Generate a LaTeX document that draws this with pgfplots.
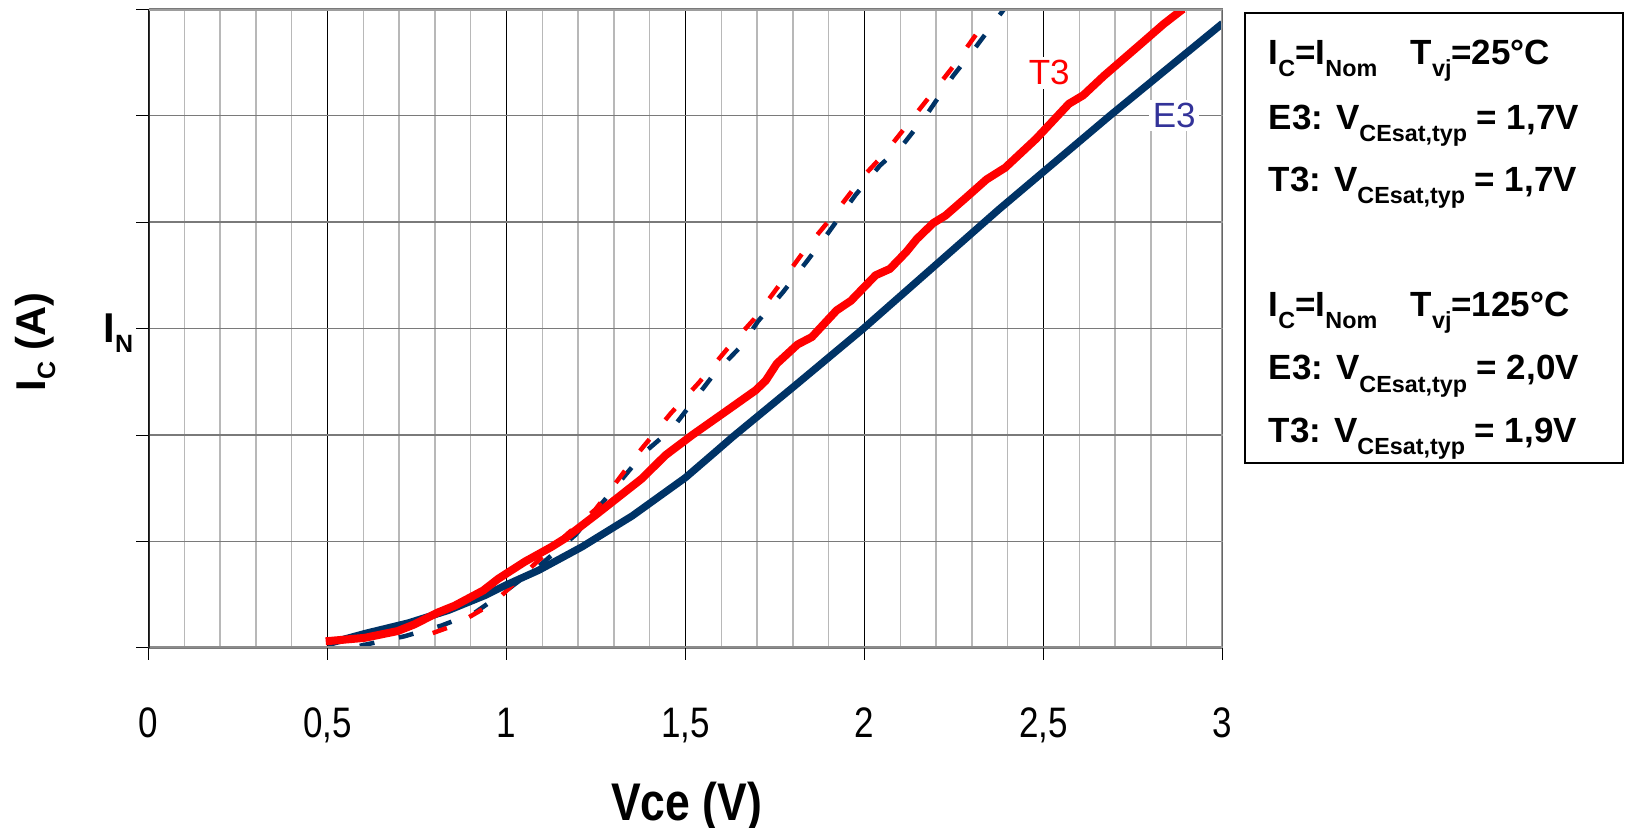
\documentclass[border=0pt]{standalone}
\usepackage{fontspec}
\setmainfont{Liberation Sans}
\usepackage{graphicx}
\usepackage{pgfplots}
\pgfplotsset{compat=1.18}
\definecolor{navy}{HTML}{003366}
\definecolor{elabel}{HTML}{333399}
\definecolor{minorgray}{HTML}{B8B8B8}
\definecolor{hgray}{HTML}{7A7A7A}
\definecolor{framegray}{HTML}{8C8C8C}
\newcommand\lsub[1]{\raisebox{-3.6pt}{\fontsize{7}{8}\selectfont #1}}
\newcommand\ysub[1]{\raisebox{-3pt}{\fontsize{7.5}{8}\selectfont #1}}
\newcommand\tl[1]{\scalebox{0.82}[1]{#1}}
\newcommand\lf{\fontsize{10.5}{12}\bfseries\selectfont}
\begin{document}
\begin{tikzpicture}
\useasboundingbox (0pt,0pt) rectangle (487.5pt,-248.4pt);
\begin{axis}[
  at={(44.55pt,-194.4pt)}, anchor=south west,
  scale only axis, width=322.2pt, height=191.7pt,
  xmin=0, xmax=3, ymin=0, ymax=6,
  xtick={0,0.5,1,1.5,2,2.5,3},
  xticklabels={{\tl{0}},{\tl{0,5}},{\tl{1}},{\tl{1,5}},{\tl{2}},{\tl{2,5}},{\tl{3}}},
  ytick={0,1,2,3,4,5,6}, yticklabels={},
  minor x tick num=4, minor tick length=0pt,
  tick pos=left, tick align=outside, major tick length=3.6pt,
  tick style={black, line width=0.3pt},
  xmajorgrids, xminorgrids, ymajorgrids,
  major x grid style={black, line width=0.3pt},
  minor x grid style={minorgray, line width=0.4pt},
  major y grid style={hgray, line width=0.45pt},
  axis line style={draw=none},
  xticklabel style={font=\fontsize{12.8}{14}\selectfont, anchor=base, yshift=-23.1pt, inner sep=0pt},
]
\addplot[navy, line width=1.35pt, dash pattern=on 4.5pt off 7.5pt] coordinates {
(0.59,0.02) (0.715,0.11) (0.818,0.21) (0.911,0.33) (1.0,0.54) (1.098,0.79) (1.192,1.06) (1.299,1.49) (1.383,1.83) (1.463,2.06) (1.577,2.56) (1.657,2.84) (1.703,3.07) (1.772,3.34) (1.841,3.64) (1.899,3.90) (1.974,4.25) (2.043,4.53) (2.106,4.72) (2.176,5.02) (2.247,5.37) (2.308,5.63) (2.39,6.0)
};
\addplot[red, line width=1.35pt, dash pattern=on 4.5pt off 7.5pt] coordinates {
(0.794,0.14) (0.86,0.22) (0.967,0.43) (1.05,0.70) (1.173,1.08) (1.248,1.30) (1.285,1.46) (1.37,1.84) (1.458,2.2) (1.537,2.49) (1.617,2.81) (1.692,3.09) (1.767,3.43) (1.836,3.75) (1.905,4.03) (1.997,4.43) (2.058,4.65) (2.14,5.0) (2.18,5.17) (2.25,5.47) (2.32,5.80) (2.335,5.87)
};
\addplot[navy, line width=2.2pt, line join=round] coordinates {
(0.50,0.04) (0.605,0.136) (0.726,0.235) (0.838,0.354) (0.941,0.495) (0.997,0.589) (1.09,0.73) (1.211,0.95) (1.351,1.24) (1.5,1.60) (1.583,1.84) (1.631,1.98) (1.808,2.47) (1.997,3.0) (2.376,4.12) (2.686,5.0) (2.991,5.84) (3.0,5.865)
};
\addplot[red, line width=2.4pt, line join=round] coordinates {
(0.495,0.063) (0.603,0.095) (0.696,0.159) (0.743,0.222) (0.808,0.333) (0.855,0.397) (0.935,0.54) (0.977,0.65) (1.051,0.81) (1.126,0.95) (1.164,1.03) (1.257,1.27) (1.378,1.59) (1.444,1.81) (1.519,2.0) (1.612,2.22) (1.696,2.42) (1.724,2.51) (1.755,2.67) (1.813,2.85) (1.853,2.92) (1.922,3.17) (1.962,3.26) (2.031,3.50) (2.071,3.56) (2.117,3.72) (2.146,3.84) (2.192,3.99) (2.226,4.06) (2.284,4.23) (2.341,4.40) (2.393,4.51) (2.479,4.78) (2.571,5.11) (2.611,5.19) (2.668,5.37) (2.778,5.69) (2.836,5.86) (2.882,5.98) (2.89,6.0)
};
\draw[line width=1.1pt, color=framegray] (rel axis cs:-0.013,0) -- (rel axis cs:1,0);
\draw[line width=0.6pt, color=black!80] (rel axis cs:0,0) -- (rel axis cs:0,1);
\draw[line width=0.9pt, color=framegray!85] (rel axis cs:0,1) -- (rel axis cs:1,1) -- (rel axis cs:1,0);
\node[fill=white, inner sep=1pt, text=red, font=\fontsize{10.5}{12}\selectfont] at (axis cs:2.516,5.40) {T3};
\node[fill=white, inner sep=1pt, text=elabel, font=\fontsize{10.5}{12}\selectfont] at (axis cs:2.865,5.0) {E3};
\end{axis}
\node[anchor=base west, inner sep=0pt, font=\fontsize{12.5}{14}\bfseries\selectfont] at (30.9pt,-102.9pt) {I\ysub{N}};
\node[rotate=90, anchor=base, inner sep=0pt, font=\fontsize{12.5}{14}\bfseries\selectfont] at (13.5pt,-102.6pt) {I\ysub{C} (A)};
\node[anchor=base, inner sep=0pt, font=\fontsize{15.9}{18}\bfseries\selectfont] at (205.95pt,-246pt) {\scalebox{0.84}[1]{Vce (V)}};
\draw[line width=0.6pt] (373.5pt,-3.9pt) rectangle (486.9pt,-138.9pt);
\node[anchor=base west, inner sep=0pt, font=\lf] at (380.4pt,-19.5pt) {I\lsub{C}=I\lsub{Nom}};
\node[anchor=base west, inner sep=0pt, font=\lf] at (423pt,-19.5pt) {T\lsub{vj}=25°C};
\node[anchor=base west, inner sep=0pt, font=\lf] at (380.4pt,-39pt) {E3: V\lsub{CEsat,typ} = 1,7V};
\node[anchor=base west, inner sep=0pt, font=\lf] at (380.4pt,-57.6pt) {T3: V\lsub{CEsat,typ} = 1,7V};
\node[anchor=base west, inner sep=0pt, font=\lf] at (380.4pt,-95.1pt) {I\lsub{C}=I\lsub{Nom}};
\node[anchor=base west, inner sep=0pt, font=\lf] at (423pt,-95.1pt) {T\lsub{vj}=125°C};
\node[anchor=base west, inner sep=0pt, font=\lf] at (380.4pt,-114pt) {E3: V\lsub{CEsat,typ} = 2,0V};
\node[anchor=base west, inner sep=0pt, font=\lf] at (380.4pt,-132.9pt) {T3: V\lsub{CEsat,typ} = 1,9V};
\end{tikzpicture}
\end{document}
